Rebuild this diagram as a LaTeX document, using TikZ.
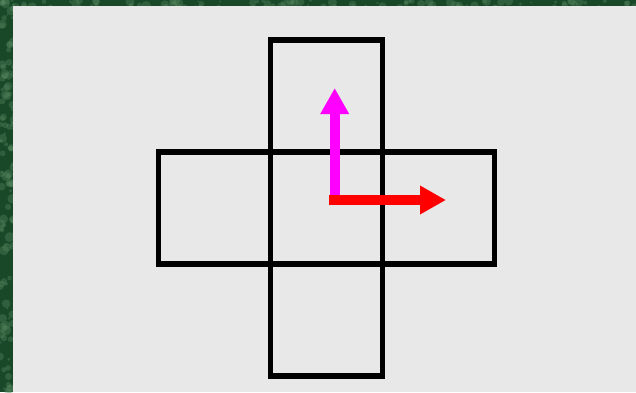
\documentclass[tikz,border=0pt]{standalone}
\usetikzlibrary{arrows.meta}
\definecolor{panelgrey}{RGB}{232,232,232}
\definecolor{marble}{RGB}{24,72,40}
\definecolor{marblelight}{RGB}{90,140,100}
\definecolor{arrowmagenta}{RGB}{255,0,255}
\definecolor{arrowred}{RGB}{255,0,0}
\tikzset{
  cell/.style={draw=black, line width=5.5pt, minimum size=112pt, inner sep=0pt, outer sep=0pt, fill=none},
  vecarrow/.style={line width=10pt, -{Triangle[length=26pt,width=27pt]}}
}
\begin{document}
\begin{tikzpicture}[x=1pt,y=-1pt]
\useasboundingbox (0,0) rectangle (636,392);
% marble background
\fill[marble] (0,0) rectangle (636,392);
\pgfmathsetseed{7}
\foreach \i in {1,...,160}{
  \pgfmathsetmacro{\px}{rnd*636}
  \pgfmathsetmacro{\py}{rnd*14}
  \pgfmathsetmacro{\pr}{1+rnd*4}
  \fill[marblelight, opacity=0.35] (\px,\py) circle[radius=\pr];
}
\foreach \i in {1,...,120}{
  \pgfmathsetmacro{\px}{rnd*16}
  \pgfmathsetmacro{\py}{rnd*392}
  \pgfmathsetmacro{\pr}{1+rnd*4}
  \fill[marblelight, opacity=0.35] (\px,\py) circle[radius=\pr];
}
% panel
\fill[panelgrey] (13.3,6) rectangle (636,392);
% cross of squares
\node[cell] (c) at (326.4,207.8) {};
\node[cell] (t) at (326.4,95.8) {};
\node[cell] (b) at (326.4,319.8) {};
\node[cell] (l) at (214.4,207.8) {};
\node[cell] (r) at (438.4,207.8) {};
% vectors
\coordinate (mstart) at (334.7,205);
\coordinate (mtip) at (334.7,88);
\coordinate (rstart) at (329.3,200);
\coordinate (rtip) at (446,200);
\draw[vecarrow, draw=arrowmagenta, fill=arrowmagenta] (mstart) -- (mtip);
\draw[vecarrow, draw=arrowred, fill=arrowred] (rstart) -- (rtip);
\end{tikzpicture}
\end{document}
